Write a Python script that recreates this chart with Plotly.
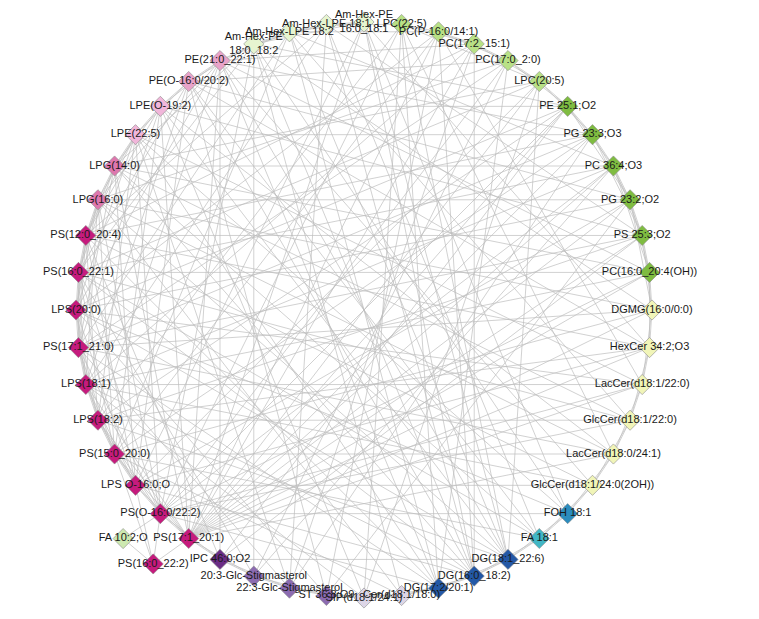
import math
import plotly.graph_objects as go

# ---------------------------
# Nodes (clockwise from the top of the ring) and their lipid class
# ---------------------------
ring_nodes = [
    "Am-Hex-PE<br>16:0_18:1", "LPC(22:5)", "PC(P-16:0/14:1)", "PC(17:2_15:1)", "PC(17:0_2:0)",
    "LPC(20:5)", "PE 25:1;O2", "PG 23:3;O3", "PC 36:4;O3", "PG 23:2;O2",
    "PS 25:3;O2", "PC(16:0_20:4(OH))", "DGMG(16:0/0:0)", "HexCer 34:2;O3", "LacCer(d18:1/22:0)",
    "GlcCer(d18:1/22:0)", "LacCer(d18:0/24:1)", "GlcCer(d18:1/24:0(2OH))", "FOH 18:1", "FA 18:1",
    "DG(18:1_22:6)", "DG(16:0_18:2)", "DG(17:2/20:1)", "Cer(d18:1/18:0)", "SIP(d18:1/24:1)",
    "ST 36:8;O9", "22:3-Glc-Stigmasterol", "20:3-Glc-Stigmasterol", "IPC 46:0;O2", "PS(17:1_20:1)",
    "PS(O-16:0/22:2)", "LPS O-16:0;O", "PS(15:0_20:0)", "LPS(18:2)", "LPS(18:1)",
    "PS(17:1_21:0)", "LPS(20:0)", "PS(16:0_22:1)", "PS(12:0_20:4)", "LPG(16:0)",
    "LPG(14:0)", "LPE(22:5)", "LPE(O-19:2)", "PE(O-16:0/20:2)", "PE(21:0_22:1)",
    "Am-Hex-PE<br>18:0_18:2", "Am-Hex-LPE 18:2", "Am-Hex-LPE 18:1",
]
extra_nodes = ["FA 10:2;O", "PS(16:0_22:2)"]

ring_groups = [
    "AmHex", "PC", "PC", "PC", "PC",
    "PC", "Ox", "Ox", "Ox", "Ox",
    "Ox", "Ox", "Glyco", "Glyco", "Glyco",
    "Glyco", "Glyco", "Glyco", "FOH", "FA",
    "DG", "DG", "DG", "SP", "SP",
    "ST", "ST", "ST", "IPC", "PS",
    "PS", "PS", "PS", "PS", "PS",
    "PS", "PS", "PS", "PS", "LPG",
    "LPG", "LPE", "LPE", "PE", "PE",
    "AmHex", "AmHex", "AmHex",
]
extra_groups = ["FAox", "PS"]

# correlation edges, by node index (ring 0..47, extras 48, 49)
edges = [
    (0, 47), (0, 46), (0, 45), (0, 29), (0, 31), (0, 21), (0, 18),
    (1, 2), (1, 3), (1, 5), (1, 47), (1, 30), (1, 33), (1, 20), (1, 22), (1, 16),
    (2, 3), (2, 4), (2, 46), (2, 29), (2, 32), (2, 36), (2, 21), (2, 14), (2, 25),
    (3, 4), (3, 5), (3, 29), (3, 34), (3, 38), (3, 21), (3, 26), (3, 44),
    (4, 5), (4, 6), (4, 30), (4, 35), (4, 39), (4, 22), (4, 43), (4, 27),
    (5, 6), (5, 7), (5, 29), (5, 31), (5, 37), (5, 40), (5, 20), (5, 24),
    (6, 7), (6, 8), (6, 9), (6, 29), (6, 30), (6, 33), (6, 36), (6, 42), (6, 28), (6, 45),
    (7, 8), (7, 9), (7, 10), (7, 41), (7, 29), (7, 32), (7, 35), (7, 38), (7, 26), (7, 44),
    (8, 9), (8, 10), (8, 11), (8, 29), (8, 30), (8, 34), (8, 37), (8, 40), (8, 27), (8, 46),
    (9, 10), (9, 11), (9, 12), (9, 29), (9, 31), (9, 36), (9, 39), (9, 43), (9, 25),
    (10, 11), (10, 12), (10, 38), (10, 29), (10, 33), (10, 35), (10, 42), (10, 28), (10, 47),
    (11, 12), (11, 13), (11, 37), (11, 29), (11, 30), (11, 34), (11, 40), (11, 44),
    (12, 13), (12, 14), (12, 29), (12, 32), (12, 35), (12, 39), (12, 45),
    (13, 14), (13, 15), (13, 29), (13, 31), (13, 33), (13, 38), (13, 43), (13, 0),
    (14, 15), (14, 16), (14, 34), (14, 29), (14, 30), (14, 36), (14, 41),
    (15, 16), (15, 17), (15, 33), (15, 30), (15, 37), (15, 40), (15, 46),
    (16, 17), (16, 18), (16, 29), (16, 32), (16, 35), (16, 39), (16, 42),
    (17, 18), (17, 19), (17, 31), (17, 34), (17, 38), (17, 44),
    (18, 19), (18, 20), (18, 30), (18, 36), (18, 41), (18, 45),
    (19, 20), (19, 21), (19, 32), (19, 37), (19, 40), (19, 43), (19, 47),
    (20, 21), (20, 22), (20, 28), (20, 33), (20, 36), (20, 39), (20, 42), (20, 44), (20, 46), (20, 0),
    (21, 22), (21, 23), (21, 31), (21, 34), (21, 37), (21, 40), (21, 43), (21, 45), (21, 47),
    (22, 23), (22, 24), (22, 30), (22, 35), (22, 38), (22, 41), (22, 44), (22, 46),
    (23, 24), (23, 25), (23, 32), (23, 39), (23, 45),
    (24, 25), (24, 26), (24, 34), (24, 42), (24, 1),
    (25, 26), (25, 27), (25, 36), (25, 43),
    (26, 27), (26, 28), (26, 35), (26, 41), (26, 47),
    (27, 28), (27, 29), (27, 37), (27, 45),
    (28, 29), (28, 30), (28, 38), (28, 44),
    (29, 30), (29, 31), (29, 32), (29, 33), (29, 34), (29, 49), (29, 40), (29, 42), (29, 44),
    (30, 31), (30, 32), (30, 33), (30, 35), (30, 37), (30, 39), (30, 41), (30, 45), (30, 48),
    (31, 32), (31, 33), (31, 34), (31, 36), (31, 38), (31, 40), (31, 43),
    (32, 33), (32, 34), (32, 35), (32, 37), (32, 39), (32, 42), (32, 46),
    (33, 34), (33, 35), (33, 36), (33, 38), (33, 41), (33, 44),
    (34, 35), (34, 36), (34, 37), (34, 39), (34, 43), (34, 47),
    (35, 36), (35, 37), (35, 38), (35, 40), (35, 42), (35, 46),
    (36, 37), (36, 38), (36, 39), (36, 41), (36, 44),
    (37, 38), (37, 39), (37, 40), (37, 43), (37, 45),
    (38, 39), (38, 40), (38, 41), (38, 42), (38, 47),
    (39, 40), (39, 41), (39, 44),
    (40, 41), (40, 42), (40, 45),
    (41, 42), (41, 43),
    (42, 43), (42, 44),
    (43, 44), (43, 45),
    (44, 45), (44, 46),
    (45, 46), (45, 47),
    (46, 47),
    (48, 49), (49, 30), (49, 31), (49, 32),
]

# ---------------------------
# Styling / layout
# ---------------------------
group_colors = {
    "AmHex": "#e6f5d0", "PC": "#b8e186", "Ox": "#7fbc41", "Glyco": "#f1f5b8",
    "FOH": "#2b8cbe", "FA": "#41b6c4", "DG": "#2358a6", "SP": "#ddd6e7",
    "ST": "#8c6bb1", "IPC": "#6a2c85", "PS": "#c51b7d", "LPG": "#de77ae",
    "LPE": "#f1b6da", "PE": "#e9a3c9", "FAox": "#cde9b0",
}
# the two nodes pulled outside the ring (angle in degrees clockwise from top, radius)
extra_polar = [(226.5, 1.153), (219.7, 1.146)]

xs, ys = [], []
step = 360.0 / len(ring_nodes)
for i in range(len(ring_nodes)):
    a = math.radians(i * step)
    xs.append(math.sin(a))
    ys.append(math.cos(a))
for ang, r in extra_polar:
    a = math.radians(ang)
    xs.append(r * math.sin(a))
    ys.append(r * math.cos(a))

names = ring_nodes + extra_nodes
groups = ring_groups + extra_groups

ex, ey = [], []
for s, t in edges:
    ex += [xs[s], xs[t], None]
    ey += [ys[s], ys[t], None]

fig = go.Figure()
fig.add_trace(go.Scatter(x=ex, y=ey, mode="lines",
                         line=dict(color="#bdbdbd", width=0.7),
                         hoverinfo="skip", showlegend=False))
fig.add_trace(go.Scatter(x=xs, y=ys, mode="markers+text", text=names,
                         textposition="middle center",
                         textfont=dict(family="Liberation Sans, Arial", size=11, color="#1a1a1a"),
                         marker=dict(symbol="diamond", size=15.5,
                                     color=[group_colors[g] for g in groups],
                                     line=dict(color="#8a8a8a", width=0.6)),
                         hoverinfo="text", showlegend=False))

# page body has an 8px margin, so the figure is a bit smaller and the ranges shifted
px = 288.0  # pixels per unit radius
W, H, off = 751, 611, 8
fig.update_layout(width=W, height=H, margin=dict(l=0, r=0, t=0, b=0),
                  paper_bgcolor="white", plot_bgcolor="white")
x0 = -(364 - off) / px
y1 = (310 - off) / px
fig.update_xaxes(range=[x0, x0 + W / px], visible=False, fixedrange=True)
fig.update_yaxes(range=[y1 - H / px, y1], visible=False, fixedrange=True)

fig.write_html("out.html")
